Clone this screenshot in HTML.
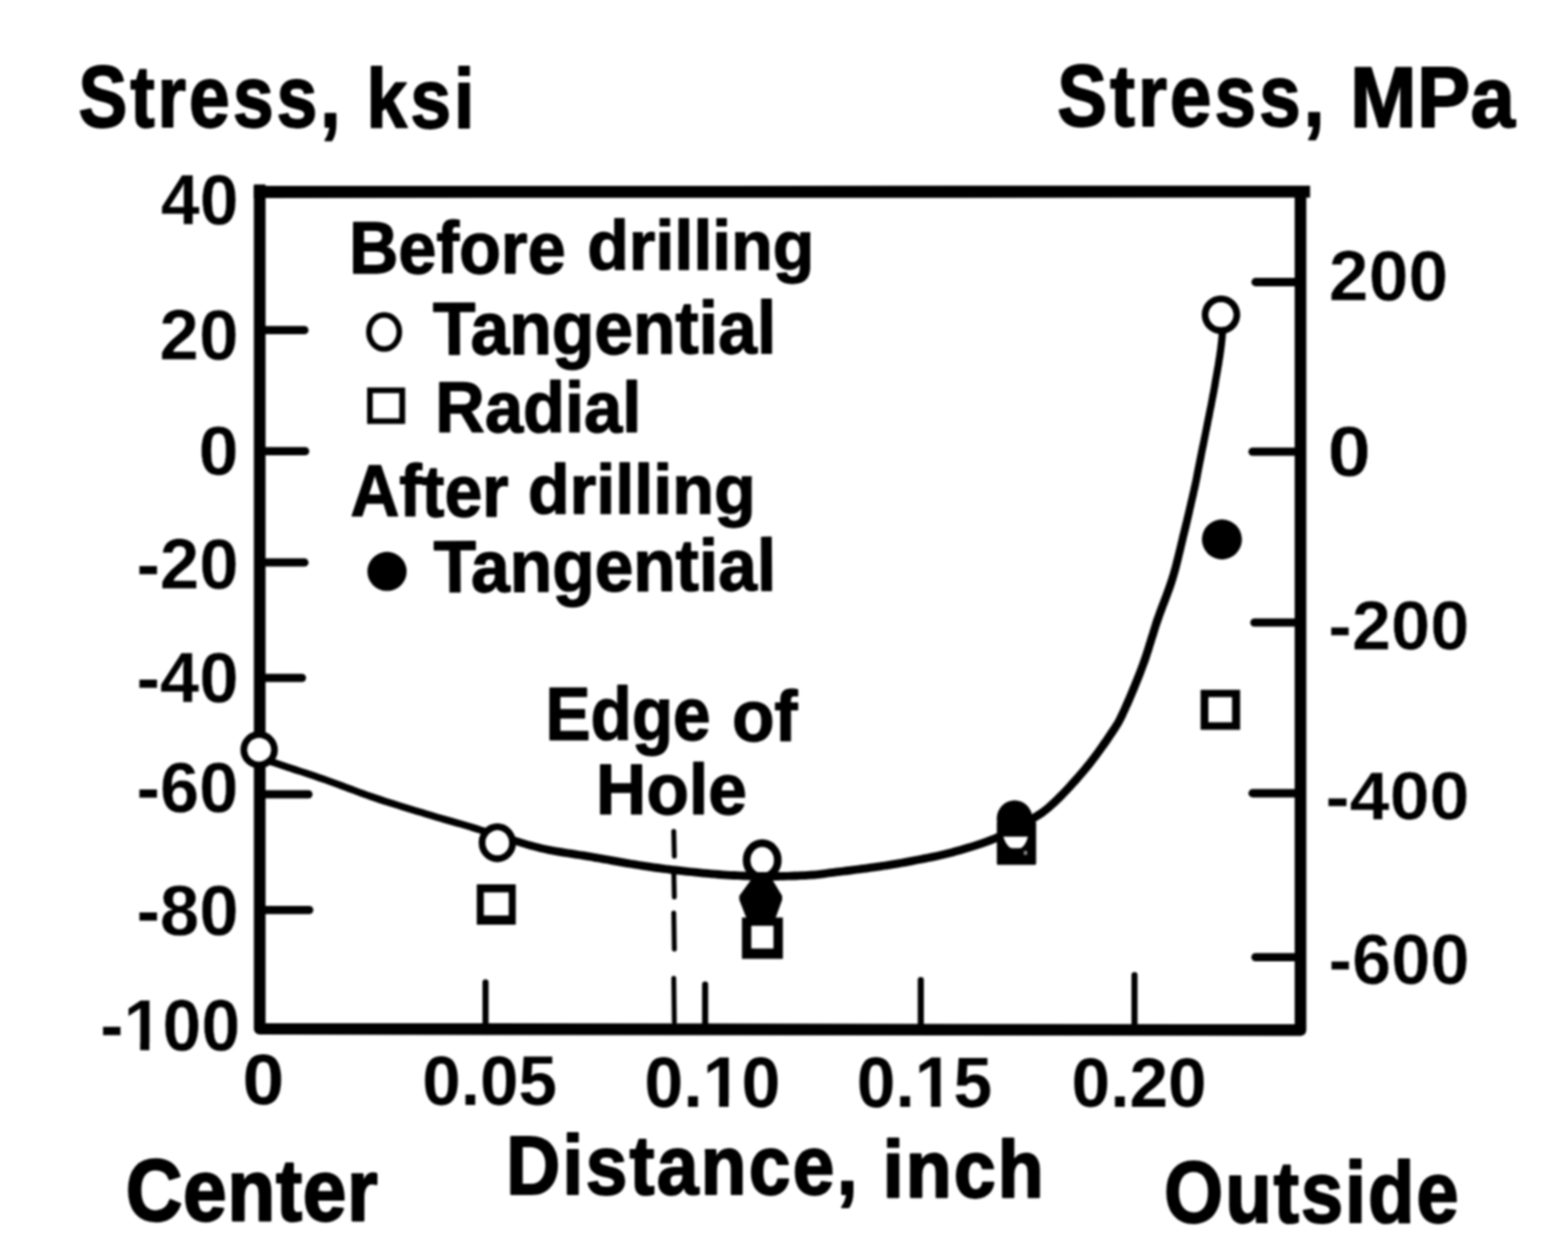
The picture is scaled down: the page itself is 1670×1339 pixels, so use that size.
<!DOCTYPE html>
<html lang="en"><head><meta charset="utf-8"><title>Residual stress vs distance</title>
<style>
html,body{margin:0;padding:0;background:#fff;}
body{width:1670px;height:1339px;overflow:hidden;}
svg{display:block;}
text{font-family:"Liberation Sans",sans-serif;font-weight:700;font-size:100px;fill:#000;stroke:#000;stroke-linejoin:round;}
text.t{font-weight:700;stroke:#000;stroke-width:2.0px;letter-spacing:4.0px;}
text.n{font-weight:700;stroke:#fff;stroke-width:0.4px;letter-spacing:0.0px;}
text.r{font-weight:700;stroke:#fff;stroke-width:0.6px;letter-spacing:0.0px;}
text.x{font-weight:700;stroke:#000;stroke-width:0.0px;letter-spacing:0.0px;}
text.l{font-weight:700;stroke:#000;stroke-width:1.8px;letter-spacing:0.0px;}
#chart{filter:blur(1.2px);}
</style></head><body>
<svg width="1670" height="1339" viewBox="0 0 1670 1339" role="img" aria-label="Residual stress versus distance chart">
<rect width="1670" height="1339" fill="#fff"/>
<g id="chart">
<g stroke="#000" fill="none" stroke-linecap="butt">
<path d="M276.6 196.5 L276.6 1095.9 L1385.1 1097.3 L1385.1 198" stroke-width="12.4" stroke-linejoin="round"/>
<path d="M270.4 204.5 L1395.3 204.1" stroke-width="12.8"/>
<path d="M282 351.7 L324.2 351.7" stroke-width="8.8" stroke-linecap="round"/>
<path d="M282 480.7 L325.0 480.7" stroke-width="8.8" stroke-linecap="round"/>
<path d="M282 599.2 L324.2 599.2" stroke-width="8.8" stroke-linecap="round"/>
<path d="M282 722.1 L321.6 722.1" stroke-width="8.8" stroke-linecap="round"/>
<path d="M282 846.1 L328.5 846.1" stroke-width="8.8" stroke-linecap="round"/>
<path d="M282 969.3 L329.3 969.3" stroke-width="8.8" stroke-linecap="round"/>
<path d="M1337.2 300.5 L1381 300.5" stroke-width="8.8" stroke-linecap="round"/>
<path d="M1334.0 481.2 L1381 481.2" stroke-width="8.8" stroke-linecap="round"/>
<path d="M1336.0 663.2 L1381 663.2" stroke-width="8.8" stroke-linecap="round"/>
<path d="M1334.0 845 L1381 845" stroke-width="8.8" stroke-linecap="round"/>
<path d="M1337.1 1019.6 L1381 1019.6" stroke-width="8.8" stroke-linecap="round"/>
<path d="M517.1 1046.4 L517.1 1092" stroke-width="6.5" stroke-linecap="round"/>
<path d="M751 1048.8 L751 1092" stroke-width="6.5" stroke-linecap="round"/>
<path d="M980.7 1044.1 L980.7 1092" stroke-width="6.5" stroke-linecap="round"/>
<path d="M1208.3 1038.8 L1208.3 1092" stroke-width="6.5" stroke-linecap="round"/>
<path d="M717.6 885.5 L718.2 912.0" stroke-width="5.2" stroke-linecap="round"/>
<path d="M717.6 927.5 L718.2 955.5" stroke-width="5.2" stroke-linecap="round"/>
<path d="M717.6 972.5 L718.2 1011.0" stroke-width="5.2" stroke-linecap="round"/>
<path d="M717.6 1042.0 L718.2 1088.5" stroke-width="5.2" stroke-linecap="round"/>
</g>
<g stroke="#000" fill="#fff">
<ellipse cx="276.0" cy="798.7" rx="16.2" ry="16.2" stroke-width="7.4"/>
<ellipse cx="529.7" cy="897.7" rx="16.2" ry="17.0" stroke-width="7.4"/>
<ellipse cx="811.8" cy="916.2" rx="16.6" ry="18.0" stroke-width="8.2"/>
<ellipse cx="1300.4" cy="335.2" rx="16.8" ry="16.8" stroke-width="7.4"/>
</g>
<path d="M274.8 810.6L276.1 811.0L277.7 811.6L279.5 812.2L281.6 812.9L283.9 813.7L286.3 814.5L288.9 815.4L291.6 816.3L294.4 817.2L297.3 818.2L300.2 819.2L303.2 820.2L306.2 821.2L309.4 822.3L312.7 823.4L316.1 824.5L319.7 825.6L323.3 826.8L326.9 828.0L330.7 829.3L334.5 830.6L338.4 831.9L342.3 833.2L346.2 834.6L350.2 836.0L354.3 837.5L358.5 839.1L362.8 840.7L367.1 842.3L371.5 843.9L376.0 845.6L380.5 847.3L385.0 848.9L389.6 850.6L394.2 852.2L398.8 853.8L403.5 855.4L408.3 856.9L413.2 858.5L418.2 860.1L423.2 861.6L428.2 863.2L433.2 864.7L438.1 866.2L442.9 867.7L447.6 869.1L452.1 870.4L456.4 871.7L460.5 873.0L464.5 874.2L468.3 875.3L472.0 876.4L475.6 877.4L479.1 878.4L482.6 879.4L486.0 880.4L489.4 881.3L492.7 882.3L496.1 883.3L499.5 884.3L502.9 885.4L506.2 886.4L509.6 887.4L512.8 888.5L516.1 889.6L519.3 890.6L522.6 891.7L525.8 892.7L529.0 893.8L532.3 894.8L535.6 895.8L538.8 896.8L542.1 897.8L545.3 898.8L548.5 899.9L551.7 900.9L554.9 901.9L558.2 902.9L561.4 903.9L564.8 904.9L568.2 905.8L571.7 906.8L575.3 907.7L579.1 908.6L583.0 909.4L587.0 910.2L591.0 911.0L595.2 911.7L599.4 912.4L603.7 913.1L608.0 913.8L612.3 914.4L616.6 915.1L620.9 915.8L625.1 916.4L629.3 917.1L633.4 917.9L637.7 918.6L642.0 919.4L646.3 920.1L650.6 920.9L654.9 921.7L659.1 922.4L663.3 923.2L667.5 923.9L671.5 924.6L675.5 925.2L679.3 925.8L683.0 926.4L686.5 927.0L689.8 927.5L693.1 927.9L696.2 928.4L699.4 928.9L702.5 929.3L705.7 929.7L709.0 930.1L712.3 930.5L715.8 930.9L719.5 931.4L723.3 931.8L727.3 932.3L731.4 932.7L735.7 933.1L739.9 933.6L744.3 934.0L748.6 934.4L752.9 934.8L757.2 935.2L761.5 935.6L765.6 935.9L769.7 936.2L773.6 936.5L777.5 936.7L781.4 936.9L785.2 937.1L788.9 937.3L792.6 937.4L796.4 937.5L800.1 937.7L803.8 937.7L807.5 937.8L811.2 937.9L815.0 937.9L818.8 937.9L822.7 937.9L826.7 937.9L830.7 937.8L834.7 937.7L838.7 937.6L842.6 937.5L846.4 937.4L850.1 937.3L853.7 937.1L857.1 937.0L860.3 936.8L863.2 936.6L865.9 936.4L868.4 936.2L870.7 935.9L872.9 935.7L875.1 935.4L877.1 935.2L879.2 934.9L881.4 934.6L883.6 934.3L886.0 934.0L888.5 933.7L891.3 933.3L894.2 933.0L897.2 932.6L900.3 932.2L903.4 931.9L906.6 931.5L909.8 931.1L913.0 930.6L916.3 930.2L919.4 929.8L922.6 929.4L925.6 929.0L928.5 928.5L931.4 928.2L934.1 927.8L936.9 927.4L939.6 927.0L942.3 926.6L945.1 926.2L948.0 925.7L951.0 925.2L954.1 924.7L957.3 924.2L960.8 923.5L964.4 922.9L968.3 922.2L972.3 921.4L976.5 920.6L980.8 919.8L985.2 919.0L989.6 918.1L994.0 917.2L998.4 916.2L1002.7 915.3L1007.0 914.3L1011.1 913.3L1015.2 912.2L1019.3 911.1L1023.4 910.0L1027.5 908.8L1031.6 907.6L1035.6 906.3L1039.6 905.1L1043.5 903.8L1047.2 902.6L1050.8 901.3L1054.3 900.0L1057.6 898.8L1060.7 897.6L1063.5 896.4L1066.2 895.2L1068.7 894.0L1071.1 892.8L1073.4 891.6L1075.7 890.4L1077.9 889.1L1080.1 887.9L1082.4 886.6L1084.7 885.2L1087.2 883.8L1089.7 882.4L1092.2 881.1L1094.7 879.7L1097.3 878.3L1100.0 876.9L1102.7 875.4L1105.4 873.8L1108.2 872.0L1111.1 870.2L1114.0 868.1L1116.9 865.8L1120.0 863.3L1123.0 860.6L1126.2 857.7L1129.5 854.5L1132.8 851.2L1136.1 847.8L1139.5 844.3L1142.8 840.7L1146.1 837.0L1149.4 833.4L1152.5 829.8L1155.6 826.3L1158.5 822.8L1161.3 819.4L1164.1 815.9L1166.9 812.3L1169.6 808.7L1172.3 805.1L1174.9 801.6L1177.4 798.1L1179.8 794.7L1182.0 791.4L1184.2 788.2L1186.2 785.2L1188.1 782.4L1189.7 779.9L1191.2 777.8L1192.4 775.8L1193.5 774.0L1194.6 772.3L1195.5 770.6L1196.4 768.9L1197.3 767.1L1198.3 765.2L1199.3 763.1L1200.4 760.6L1201.7 757.8L1203.1 754.6L1204.7 751.2L1206.3 747.4L1208.0 743.5L1209.7 739.4L1211.5 735.2L1213.2 730.9L1215.0 726.5L1216.7 722.2L1218.4 717.9L1220.0 713.6L1221.5 709.5L1223.0 705.4L1224.4 701.4L1225.7 697.3L1227.1 693.2L1228.3 689.1L1229.6 685.0L1230.8 681.0L1232.1 677.0L1233.3 673.0L1234.5 669.1L1235.8 665.2L1237.1 661.4L1238.4 657.7L1239.7 654.0L1241.1 650.4L1242.4 646.8L1243.8 643.2L1245.2 639.6L1246.5 636.0L1247.9 632.3L1249.2 628.7L1250.5 624.9L1251.8 621.1L1253.0 617.3L1254.1 613.4L1255.2 609.4L1256.3 605.4L1257.3 601.4L1258.4 597.3L1259.3 593.3L1260.3 589.2L1261.3 585.1L1262.2 581.1L1263.2 577.0L1264.1 573.0L1265.1 569.0L1266.1 564.9L1267.1 560.7L1268.1 556.5L1269.1 552.2L1270.1 547.9L1271.0 543.6L1272.0 539.4L1272.9 535.3L1273.8 531.4L1274.7 527.7L1275.4 524.1L1276.2 520.9L1276.8 518.0L1277.3 515.7L1277.7 513.6L1278.1 511.9L1278.4 510.2L1278.7 508.7L1279.0 507.0L1279.3 505.3L1279.7 503.2L1280.2 500.8L1280.7 497.9L1281.4 494.4L1282.3 490.2L1283.2 485.2L1284.3 479.8L1285.5 473.9L1286.7 467.8L1287.9 461.5L1289.2 455.2L1290.4 449.1L1291.6 443.2L1292.6 437.8L1293.6 432.9L1294.4 428.6L1295.1 425.1L1295.7 422.0L1296.2 419.3L1296.7 416.9L1297.0 414.8L1297.4 412.9L1297.7 411.2L1298.0 409.5L1298.2 407.9L1298.5 406.3L1298.8 404.6L1299.1 402.7L1299.5 400.7L1299.8 398.7L1300.2 396.8L1300.5 394.9L1300.8 393.0L1301.1 391.2L1301.5 389.3L1301.8 387.5L1302.0 385.8L1302.3 384.0L1302.6 382.3L1302.9 380.6L1303.1 378.9L1303.3 377.2L1303.6 375.6L1303.8 373.9L1304.0 372.3L1304.2 370.7L1304.4 369.2L1304.6 367.7L1304.7 366.3L1304.9 364.9L1305.0 363.6L1305.2 362.4L1305.3 361.2L1305.4 360.1L1305.5 359.0L1305.6 358.0L1305.6 357.0L1305.7 356.1L1305.7 355.3L1305.8 354.5L1305.8 353.8L1305.8 353.2L1305.9 352.7L1305.9 352.2L1298.1 351.8L1298.1 352.2L1298.0 352.8L1298.0 353.4L1298.0 354.1L1297.9 354.8L1297.9 355.7L1297.8 356.5L1297.8 357.4L1297.7 358.4L1297.6 359.4L1297.5 360.5L1297.4 361.6L1297.3 362.8L1297.2 364.1L1297.0 365.4L1296.8 366.8L1296.7 368.3L1296.5 369.8L1296.3 371.3L1296.1 372.9L1295.8 374.5L1295.6 376.1L1295.4 377.8L1295.1 379.4L1294.9 381.1L1294.6 382.8L1294.3 384.5L1294.1 386.3L1293.8 388.0L1293.5 389.9L1293.1 391.7L1292.8 393.6L1292.5 395.5L1292.1 397.4L1291.8 399.3L1291.5 401.3L1291.1 403.2L1290.8 405.0L1290.5 406.6L1290.3 408.2L1290.0 409.8L1289.7 411.5L1289.4 413.4L1289.0 415.5L1288.6 417.8L1288.0 420.5L1287.5 423.6L1286.8 427.2L1286.0 431.4L1285.0 436.2L1283.9 441.7L1282.7 447.5L1281.5 453.7L1280.3 460.0L1279.0 466.2L1277.7 472.4L1276.5 478.2L1275.4 483.7L1274.4 488.6L1273.6 492.8L1272.9 496.3L1272.3 499.3L1271.8 501.7L1271.4 503.8L1271.1 505.5L1270.8 507.1L1270.5 508.7L1270.2 510.3L1269.8 512.0L1269.4 514.0L1268.9 516.3L1268.2 519.1L1267.5 522.4L1266.7 525.8L1265.9 529.6L1264.9 533.5L1264.0 537.5L1263.0 541.7L1262.0 546.0L1261.0 550.2L1260.0 554.5L1258.9 558.8L1257.9 562.9L1256.9 567.0L1255.9 571.0L1255.0 575.1L1254.0 579.1L1253.0 583.2L1252.0 587.2L1251.0 591.2L1250.0 595.2L1249.0 599.2L1248.0 603.2L1246.9 607.1L1245.8 610.9L1244.6 614.7L1243.4 618.4L1242.2 622.1L1240.9 625.7L1239.6 629.3L1238.3 632.9L1236.9 636.4L1235.6 640.0L1234.2 643.6L1232.8 647.3L1231.4 651.0L1230.1 654.7L1228.7 658.6L1227.4 662.5L1226.2 666.4L1224.9 670.4L1223.7 674.4L1222.4 678.4L1221.2 682.5L1219.9 686.5L1218.7 690.5L1217.4 694.5L1216.1 698.5L1214.7 702.5L1213.3 706.5L1211.8 710.5L1210.2 714.7L1208.5 719.0L1206.8 723.3L1205.1 727.6L1203.3 731.8L1201.6 736.0L1199.9 740.1L1198.2 743.9L1196.6 747.6L1195.1 751.0L1193.7 754.2L1192.4 756.9L1191.3 759.3L1190.3 761.4L1189.4 763.2L1188.6 764.9L1187.8 766.4L1187.0 767.9L1186.0 769.4L1185.0 771.1L1183.8 773.0L1182.4 775.1L1180.7 777.6L1178.9 780.3L1176.9 783.3L1174.8 786.4L1172.5 789.6L1170.2 793.0L1167.7 796.4L1165.2 799.9L1162.6 803.4L1159.9 806.9L1157.2 810.4L1154.5 813.8L1151.7 817.2L1148.9 820.5L1145.9 824.0L1142.8 827.6L1139.6 831.1L1136.3 834.7L1133.1 838.2L1129.8 841.7L1126.5 845.1L1123.3 848.3L1120.2 851.3L1117.1 854.1L1114.2 856.7L1111.5 858.9L1108.8 861.0L1106.1 862.9L1103.5 864.6L1100.9 866.3L1098.3 867.8L1095.7 869.2L1093.2 870.6L1090.6 872.0L1088.0 873.3L1085.4 874.7L1082.8 876.2L1080.3 877.6L1078.0 878.9L1075.7 880.2L1073.6 881.5L1071.4 882.7L1069.3 883.8L1067.1 885.0L1064.9 886.1L1062.5 887.2L1060.0 888.3L1057.3 889.4L1054.4 890.6L1051.2 891.8L1047.9 893.0L1044.4 894.2L1040.7 895.5L1036.9 896.7L1033.0 897.9L1029.0 899.1L1025.0 900.3L1021.0 901.5L1016.9 902.6L1012.9 903.7L1008.9 904.7L1004.9 905.7L1000.7 906.7L996.5 907.7L992.2 908.6L987.8 909.5L983.5 910.3L979.1 911.2L974.9 912.0L970.7 912.8L966.7 913.5L962.9 914.2L959.2 914.9L955.8 915.5L952.6 916.0L949.5 916.6L946.6 917.0L943.8 917.5L941.0 917.9L938.3 918.3L935.6 918.7L932.9 919.1L930.2 919.4L927.3 919.8L924.4 920.2L921.4 920.7L918.3 921.1L915.1 921.5L911.9 921.9L908.7 922.3L905.5 922.7L902.3 923.1L899.2 923.5L896.1 923.9L893.1 924.2L890.2 924.6L887.5 924.9L884.9 925.3L882.4 925.6L880.2 925.9L878.0 926.2L876.0 926.4L873.9 926.7L871.9 927.0L869.8 927.2L867.6 927.4L865.2 927.6L862.6 927.8L859.7 928.0L856.6 928.2L853.3 928.3L849.8 928.5L846.1 928.6L842.3 928.7L838.5 928.9L834.5 928.9L830.6 929.0L826.6 929.1L822.7 929.1L818.8 929.1L815.0 929.1L811.3 929.1L807.6 929.0L804.0 928.9L800.3 928.9L796.6 928.7L793.0 928.6L789.3 928.5L785.6 928.3L781.8 928.1L778.0 927.9L774.2 927.7L770.3 927.4L766.3 927.1L762.2 926.8L758.0 926.5L753.7 926.1L749.4 925.7L745.1 925.3L740.8 924.8L736.6 924.4L732.4 923.9L728.3 923.5L724.3 923.1L720.5 922.6L716.9 922.2L713.4 921.8L710.1 921.4L706.9 921.0L703.7 920.6L700.6 920.1L697.5 919.7L694.3 919.2L691.1 918.8L687.8 918.3L684.3 917.7L680.7 917.2L676.9 916.5L673.0 915.9L668.9 915.2L664.8 914.5L660.6 913.8L656.4 913.0L652.1 912.2L647.8 911.5L643.5 910.7L639.2 909.9L635.0 909.2L630.7 908.5L626.5 907.8L622.2 907.1L617.9 906.4L613.6 905.7L609.3 905.1L605.1 904.4L600.8 903.8L596.6 903.1L592.6 902.4L588.6 901.7L584.7 901.0L580.9 900.2L577.3 899.4L573.8 898.6L570.4 897.7L567.0 896.8L563.8 895.9L560.5 895.0L557.3 894.0L554.1 893.1L550.9 892.1L547.7 891.1L544.5 890.1L541.2 889.2L537.9 888.2L534.6 887.2L531.4 886.2L528.1 885.2L524.9 884.2L521.7 883.2L518.4 882.2L515.1 881.2L511.8 880.2L508.5 879.1L505.1 878.1L501.7 877.1L498.3 876.0L494.9 875.0L491.5 874.0L488.1 873.1L484.7 872.1L481.2 871.1L477.7 870.1L474.1 869.1L470.4 868.0L466.6 866.9L462.7 865.7L458.6 864.5L454.3 863.2L449.8 861.8L445.1 860.4L440.3 858.9L435.4 857.4L430.5 855.9L425.5 854.4L420.5 852.8L415.5 851.3L410.6 849.7L405.9 848.1L401.2 846.6L396.7 845.0L392.1 843.4L387.6 841.8L383.1 840.2L378.6 838.5L374.2 836.8L369.8 835.2L365.5 833.5L361.2 831.9L357.0 830.4L352.8 828.9L348.8 827.4L344.8 826.0L340.8 824.7L336.9 823.3L333.1 822.1L329.3 820.8L325.6 819.6L322.0 818.4L318.5 817.3L315.1 816.1L311.8 815.1L308.6 814.0L305.6 813.0L302.6 812.0L299.7 811.0L296.8 810.0L294.0 809.1L291.3 808.2L288.7 807.3L286.3 806.5L284.0 805.7L282.0 805.0L280.1 804.4L278.5 803.8L277.2 803.4Z" fill="#000"/>
<g fill="#fff">
<ellipse cx="276.0" cy="798.7" rx="12.5" ry="12.5"/>
<ellipse cx="529.7" cy="897.7" rx="12.5" ry="13.3"/>
<ellipse cx="1300.4" cy="335.2" rx="13.100000000000001" ry="13.100000000000001"/>
</g>
<rect x="391.0" y="412.8" width="40.5" height="38.8" fill="#000"/><rect x="397.0" y="418.8" width="28.2" height="26.8" fill="#fff"/>
<rect x="507.8" y="942" width="41.5" height="43.0" fill="#000"/><rect x="515.3" y="950.6" width="26.5" height="24.6" fill="#fff"/>
<rect x="1278.7" y="734.8" width="42.1" height="42.6" fill="#000"/><rect x="1287.0" y="742.6" width="25.2" height="26.8" fill="#fff"/>
<ellipse cx="409.1" cy="353.6" rx="16.2" ry="18.2" stroke="#000" stroke-width="6" fill="#fff"/>
<g fill="#000">
<circle cx="412.2" cy="608.7" r="20.9"/>
<circle cx="1301.4" cy="574.6" r="21.3"/>
<path d="M800.5 938H822L832 954.5V958.5L825 978H796L788.4 958.5V954.5Z" stroke="#000" stroke-width="2" stroke-linejoin="round"/>
</g>
<rect x="790.2" y="977.4" width="43.6" height="44" fill="#000"/><rect x="800.2" y="986.2" width="23.6" height="24.2" fill="#fff"/>
<rect x="1061.7" y="875" width="41.8" height="46.2" rx="1.5" fill="#000"/>
<ellipse cx="1080.6" cy="872.2" rx="19" ry="19.8" fill="#000"/>
<path d="M1068.6 891.2H1094.8C1093.5 896.5 1090 903.2 1086 903.5H1078C1074 903.2 1070 896.5 1068.6 891.2Z" fill="#fff"/>
<rect x="1090.4" y="906.4" width="3.6" height="4.2" fill="#8a8a8a"/>
<g>
<text class="t" transform="translate(83.44 135.23) scale(0.7814 0.9333)">Stress,</text>
<text class="t" transform="translate(390.31 135.92) scale(0.7815 0.8832)">ksi</text>
<text class="t" transform="translate(1126.01 133.75) scale(0.7960 0.9265)">Stress,</text>
<text class="t" style="stroke:#000;stroke-width:2.2px;letter-spacing:0.5px" transform="translate(1438.11 134.89) scale(0.8481 0.9147)">MPa</text>
<text class="t" style="stroke:#000;stroke-width:2.6px;letter-spacing:1.0px" transform="translate(133.95 1300.19) scale(0.8336 0.9189)">Center</text>
<text class="t" style="stroke:#000;stroke-width:2.2px;letter-spacing:3.0px" transform="translate(538.99 1272.42) scale(0.7990 0.8865)">Distance,</text>
<text class="t" style="stroke:#000;stroke-width:2.8px;letter-spacing:3.0px" transform="translate(940.34 1274.90) scale(0.7969 0.8592)">inch</text>
<text class="t" style="stroke:#000;stroke-width:2.2px;letter-spacing:2.5px" transform="translate(1239.85 1302.07) scale(0.8103 0.9212)">Outside</text>
<text class="n" transform="translate(171.34 238.99) scale(0.7432 0.7576)">40</text>
<text class="n" transform="translate(169.80 382.79) scale(0.7576 0.7676)">20</text>
<text class="n" transform="translate(211.58 506.21) scale(0.7665 0.7420)">0</text>
<text class="n" transform="translate(145.13 627.40) scale(0.7539 0.7562)">-20</text>
<text class="n" transform="translate(145.13 747.59) scale(0.7539 0.7619)">-40</text>
<text class="n" transform="translate(145.14 864.99) scale(0.7531 0.7676)">-60</text>
<text class="n" transform="translate(145.13 995.69) scale(0.7539 0.7676)">-80</text>
<text class="n" transform="translate(106.87 1119.38) scale(0.7443 0.7804)">-100</text>
<path transform="translate(106.87 1119.38) scale(0.7443 0.7804)" fill="#fff" d="M38.83 -10.70H56.95V3.00H38.83ZM70.17 -10.70H87.05V3.00H70.17Z"/>
<text class="r" transform="translate(1415.30 320.07) scale(0.7627 0.7641)">200</text>
<text class="r" transform="translate(1414.04 507.47) scale(0.8273 0.7541)">0</text>
<text class="r" transform="translate(1414.67 691.58) scale(0.7518 0.7498)">-200</text>
<text class="r" transform="translate(1411.80 873.29) scale(0.7665 0.7299)">-400</text>
<text class="r" transform="translate(1415.08 1048.37) scale(0.7497 0.7555)">-600</text>
<text class="x" transform="translate(258.30 1176.24) scale(0.8000 0.7576)">0</text>
<text class="x" transform="translate(449.86 1177.05) scale(0.7361 0.7491)">0.05</text>
<text class="x" transform="translate(686.22 1178.74) scale(0.7458 0.7576)">0.10</text>
<path transform="translate(686.22 1178.74) scale(0.7458 0.7576)" fill="#fff" d="M88.83 -10.70H106.75V3.00H88.83ZM120.38 -10.70H137.05V3.00H120.38Z"/>
<text class="x" transform="translate(912.54 1178.75) scale(0.7409 0.7505)">0.15</text>
<path transform="translate(912.54 1178.75) scale(0.7409 0.7505)" fill="#fff" d="M88.83 -10.70H106.75V3.00H88.83ZM120.38 -10.70H137.05V3.00H120.38Z"/>
<text class="x" transform="translate(1141.35 1179.36) scale(0.7383 0.7364)">0.20</text>
<text class="l" transform="translate(371.64 290.59) scale(0.7288 0.7838)">Before</text>
<text class="l" transform="translate(625.45 287.40) scale(0.7262 0.7357)">drilling</text>
<text class="l" transform="translate(461.33 377.49) rotate(-0.2) scale(0.7419 0.7923)">Tangential</text>
<text class="l" transform="translate(463.62 459.51) scale(0.7315 0.7640)">Radial</text>
<text class="l" transform="translate(373.14 550.10) scale(0.7224 0.7782)">After</text>
<text class="l" transform="translate(562.24 546.70) scale(0.7283 0.7384)">drilling</text>
<text class="l" transform="translate(461.93 630.70) rotate(-0.3) scale(0.7409 0.7810)">Tangential</text>
<text class="l" transform="translate(581.09 788.29) scale(0.7189 0.7881)">Edge</text>
<text class="l" transform="translate(779.71 789.22) scale(0.7389 0.7604)">of</text>
<text class="l" transform="translate(634.86 867.42) scale(0.7412 0.7512)">Hole</text>
</g>
</g>
</svg>
</body></html>
